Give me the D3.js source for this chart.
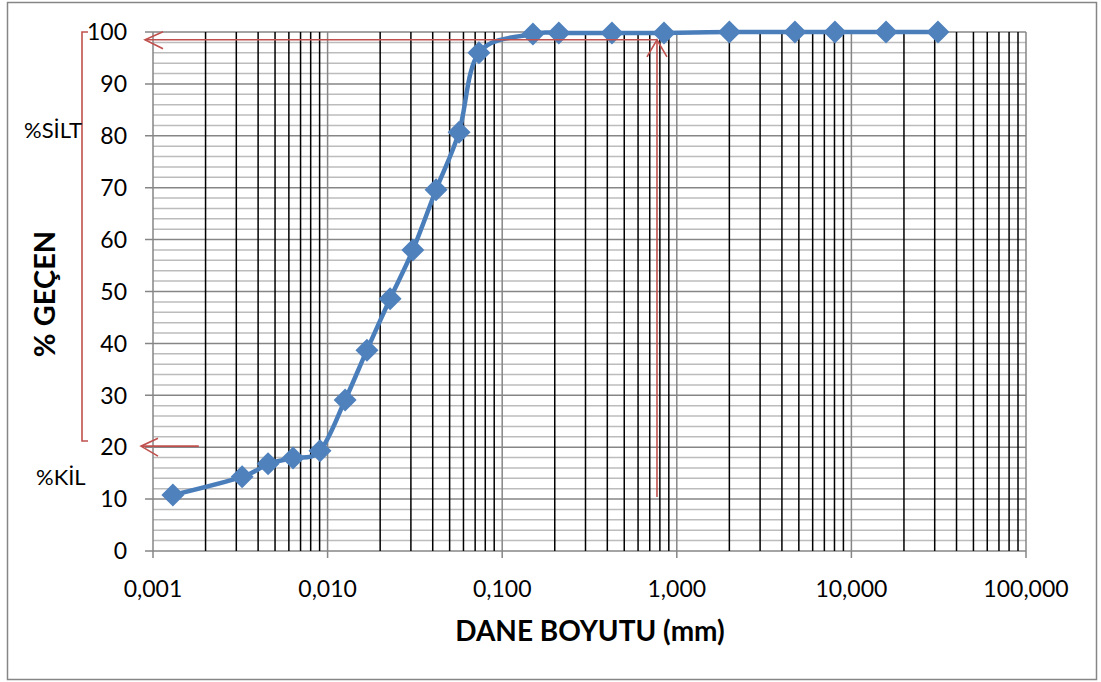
<!DOCTYPE html>
<html>
<head>
<meta charset="utf-8">
<script src="https://cdn.jsdelivr.net/npm/d3@7"></script>
<style>
  body { margin: 0; background: #fff; }
  text { font-family: Lato, "Open Sans", sans-serif; fill: #000; }
</style>
</head>
<body>
<div id="chart"></div>
<script>
// grain size (mm) and percent passing
var sizes = [0.0013, 0.00324, 0.00456, 0.00634, 0.00905, 0.0126, 0.0168, 0.0228, 0.0308, 0.0418, 0.0566, 0.0736,
             0.150, 0.211, 0.425, 0.845, 2.0, 4.75, 8.05, 15.8, 31.3];
var passing = [10.8, 14.3, 16.8, 17.9, 19.3, 29.1, 38.7, 48.6, 58.0, 69.6, 80.7, 96.0,
               99.6, 99.8, 99.8, 99.8, 100, 100, 100, 100, 100];
var xTicks = [0.001, 0.01, 0.1, 1, 10, 100];
var xTickLabels = ["0,001", "0,010", "0,100", "1,000", "10,000", "100,000"];
var yTicks = [0, 10, 20, 30, 40, 50, 60, 70, 80, 90, 100];

// annotation levels
var kilLevel = 20.2;
var siltLevel = 98.5;
var sieveSize = 0.77;
var sieveBottom = 10.4;
var bracketBottom = 21.2;

var W = 1101, H = 682;
var margin = {top: 32, right: 75, bottom: 131, left: 153};
var w = W - margin.left - margin.right;
var h = H - margin.top - margin.bottom;

var svg = d3.select("#chart").append("svg")
    .attr("width", W).attr("height", H);

// outer frame
svg.append("rect")
   .attr("x", 7.5).attr("y", 2.5).attr("width", 1089).attr("height", 677)
   .attr("fill", "#fff").attr("stroke", "#868686").attr("stroke-width", 1.5);

var g = svg.append("g").attr("transform", "translate(" + margin.left + "," + margin.top + ")");

var xScale = d3.scaleLog().domain([0.001, 100]).range([0, w]);
var yScale = d3.scaleLinear().domain([0, 100]).range([h, 0]);

// minor horizontal grid (every 2)
var minorY = d3.range(2, 100, 2).filter(function(v) { return v % 10 !== 0; });
g.selectAll(".hminor").data(minorY).enter().append("line")
  .attr("x1", 0).attr("x2", w)
  .attr("y1", function(d) { return yScale(d); }).attr("y2", function(d) { return yScale(d); })
  .attr("stroke", "#bcbcbc").attr("stroke-width", 1.5);

// major horizontal grid
g.selectAll(".hmajor").data(yTicks).enter().append("line")
  .attr("x1", -8).attr("x2", w)
  .attr("y1", function(d) { return yScale(d); }).attr("y2", function(d) { return yScale(d); })
  .attr("stroke", "#868686").attr("stroke-width", 1.5);

// minor vertical grid (2..9 of each decade)
var minorX = [];
for (var e = -3; e < 2; e++) {
  for (var m = 2; m <= 9; m++) minorX.push(m * Math.pow(10, e));
}
g.selectAll(".vminor").data(minorX).enter().append("line")
  .attr("x1", function(d) { return xScale(d); }).attr("x2", function(d) { return xScale(d); })
  .attr("y1", 0).attr("y2", h)
  .attr("stroke", "#000").attr("stroke-width", 1.5);

// major vertical grid
g.selectAll(".vmajor").data(xTicks).enter().append("line")
  .attr("x1", function(d) { return xScale(d); }).attr("x2", function(d) { return xScale(d); })
  .attr("y1", 0).attr("y2", h + 7)
  .attr("stroke", "#868686").attr("stroke-width", 1.5);

// y tick labels
g.selectAll(".ylab").data(yTicks).enter().append("text")
  .attr("x", -26).attr("y", function(d) { return yScale(d); })
  .attr("dy", "0.36em").attr("text-anchor", "end")
  .style("font-size", "23px")
  .text(function(d) { return d; });

// x tick labels
g.selectAll(".xlab").data(xTicks).enter().append("text")
  .attr("x", function(d) { return xScale(d); }).attr("y", h + 46)
  .attr("text-anchor", "middle")
  .style("font-size", "23px")
  .text(function(d, i) { return xTickLabels[i]; });

// axis titles
svg.append("text")
   .attr("x", 590).attr("y", 641)
   .attr("text-anchor", "middle")
   .style("font-size", "28px").style("font-weight", "bold")
   .text("DANE BOYUTU (mm)");

svg.append("text")
   .attr("transform", "translate(55,294) rotate(-90)")
   .attr("text-anchor", "middle")
   .style("font-size", "29px").style("font-weight", "bold")
   .text("% GEÇEN");

// red annotations
var red = "#C0504D";
var ann = svg.append("g").attr("fill", "none").attr("stroke", red).attr("stroke-width", 1.6);

// bracket
ann.append("path")
   .attr("d", "M88," + (margin.top + yScale(100)) +
              "H82V" + (margin.top + yScale(bracketBottom)) + "H88");

// %KİL arrow
var ky = margin.top + yScale(kilLevel);
ann.append("line").attr("x1", margin.left + xScale(0.00183)).attr("x2", margin.left - 12)
   .attr("y1", ky).attr("y2", ky);
ann.append("path")
   .attr("d", "M" + (margin.left + 5) + "," + (ky - 8) + "L" + (margin.left - 12) + "," + ky +
              "L" + (margin.left + 5) + "," + (ky + 10));

// %SİLT arrows
var sy = margin.top + yScale(siltLevel);
var sx = margin.left + xScale(sieveSize);
ann.append("line").attr("x1", margin.left - 8).attr("x2", sx).attr("y1", sy).attr("y2", sy);
ann.append("path")
   .attr("d", "M" + (margin.left + 10) + "," + (sy - 8) + "L" + (margin.left - 8) + "," + sy +
              "L" + (margin.left + 10) + "," + (sy + 9));
ann.append("line").attr("x1", sx).attr("x2", sx)
   .attr("y1", sy).attr("y2", margin.top + yScale(sieveBottom));
ann.append("path")
   .attr("d", "M" + (sx - 10) + "," + (sy + 17) + "L" + sx + "," + sy + "L" + (sx + 10) + "," + (sy + 17));

svg.append("text").attr("x", 24).attr("y", 138)
   .style("font-size", "22px").text("%SİLT");
svg.append("text").attr("x", 36).attr("y", 485)
   .style("font-size", "22px").text("%KİL");

// data line
var pts = sizes.map(function(d, i) { return [d, passing[i]]; });
var line = d3.line()
    .x(function(d) { return xScale(d[0]); })
    .y(function(d) { return yScale(d[1]); })
    .curve(d3.curveCatmullRom.alpha(0));

g.append("path").datum(pts)
  .attr("d", line)
  .attr("fill", "none").attr("stroke", "#4A7EBB").attr("stroke-width", 4.5)
  .attr("stroke-linejoin", "round");

g.selectAll(".pt").data(pts).enter().append("path")
  .attr("transform", function(d) { return "translate(" + xScale(d[0]) + "," + yScale(d[1]) + ")"; })
  .attr("d", "M0,-11.5L11.5,0L0,11.5L-11.5,0Z")
  .attr("fill", "#4F81BD");
</script>
</body>
</html>
